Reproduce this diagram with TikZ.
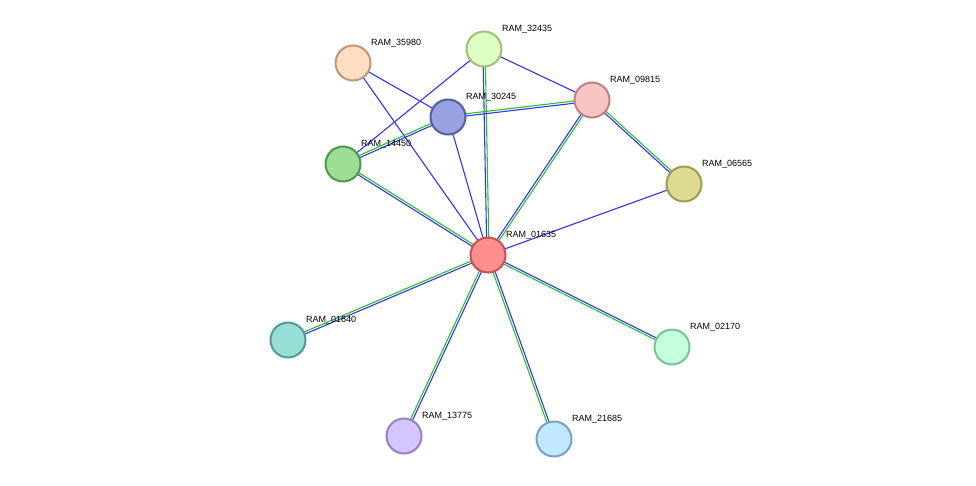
\documentclass[tikz,border=0pt]{standalone}
\usepackage{fontspec}
\setmainfont{Liberation Sans}
\usetikzlibrary{calc}
\definecolor{eb}{RGB}{50,50,240}
\definecolor{eg}{RGB}{40,190,40}
\tikzset{
  prot/.style={circle,minimum size=35pt,inner sep=0pt,line width=2pt},
  lab/.style={font=\fontsize{9}{10}\selectfont,anchor=south west,inner sep=0pt},
  be/.style={draw=eb,line width=1.1pt},
  ge/.style={draw=eg,line width=1.1pt}
}
\newcommand{\bedge}[2]{\draw[be] (#1) -- (#2);}
\newcommand{\dedge}[2]{%
  \draw[ge] ($(#1)!1.1pt!90:(#2)$) -- ($(#2)!1.1pt!-90:(#1)$);
  \draw[be] ($(#1)!1.1pt!-90:(#2)$) -- ($(#2)!1.1pt!90:(#1)$);}
\begin{document}
\begin{tikzpicture}[x=1pt,y=-1pt]
\useasboundingbox (0,0) rectangle (976,485);
\coordinate (c01635) at (488,255);
\coordinate (c32435) at (484,49);
\coordinate (c35980) at (353,63);
\coordinate (c30245) at (448,117);
\coordinate (c09815) at (592,100);
\coordinate (c14450) at (343,164);
\coordinate (c06565) at (684,184);
\coordinate (c01640) at (288,340);
\coordinate (c02170) at (672,347);
\coordinate (c13775) at (404,436);
\coordinate (c21685) at (554,439);
\bedge{c35980}{c30245}
\bedge{c35980}{c01635}
\bedge{c32435}{c14450}
\bedge{c32435}{c09815}
\dedge{c32435}{c01635}
\dedge{c30245}{c09815}
\dedge{c14450}{c30245}
\bedge{c30245}{c01635}
\dedge{c09815}{c01635}
\dedge{c09815}{c06565}
\bedge{c06565}{c01635}
\dedge{c14450}{c01635}
\dedge{c01640}{c01635}
\dedge{c02170}{c01635}
\dedge{c13775}{c01635}
\dedge{c21685}{c01635}
\foreach \n/\f/\s in {
 01635/{255,142,142}/{200,80,80},
 32435/{222,255,196}/{160,190,120},
 35980/{255,222,196}/{190,150,120},
 30245/{152,162,224}/{80,95,160},
 09815/{248,196,196}/{190,130,130},
 14450/{156,222,146}/{80,150,80},
 06565/{222,218,146}/{160,155,80},
 01640/{150,222,214}/{80,155,150},
 02170/{196,255,222}/{120,195,150},
 13775/{212,196,255}/{150,130,200},
 21685/{192,232,255}/{120,160,195}}{
  \definecolor{fc}{RGB}{\f}\definecolor{sc}{RGB}{\s}
  \node[prot,fill=fc,draw=sc] (n\n) at (c\n) {};
  \node[lab] (l\n) at ($(c\n)+(18,-16)$) {RAM\_\n};
}
\end{tikzpicture}
\end{document}
